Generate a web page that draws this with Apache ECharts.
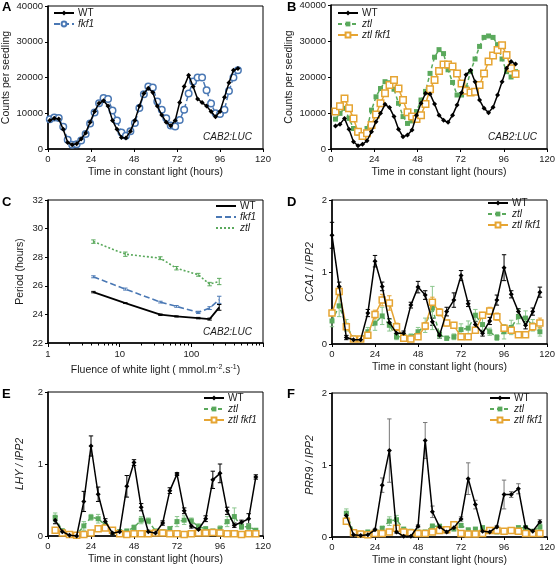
<!DOCTYPE html>
<html><head><meta charset="utf-8">
<script src="https://cdn.jsdelivr.net/npm/echarts@6/dist/echarts.min.js"></script>
<style>html,body{margin:0;padding:0;background:#fff}#c{width:558px;height:567px}</style>
</head><body><div id="c"></div>
<script>
// ---------------- DATA ----------------
// Panel A (CAB2:LUC, counts per seedling)
const tA = [1,3.5,6,8.5,11,13.5,16,18.5,21,23.5,26,28.5,31,33.5,36,38.5,41,43.5,46,48.5,51,53.5,56,58.5,61,63.5,66,68.5,71,73.5,76,78.5,81,83.5,86,88.5,91,93.5,96,98.5,101,103.5,106];
const A_WT = [8000,8600,8400,5500,1800,1200,1500,2800,4500,7500,10500,12800,13500,12000,8000,5500,3200,3100,5000,8000,12000,15500,17000,15800,12000,9500,7500,6500,8000,13000,17500,20600,17500,14000,13000,12000,10500,9000,10500,14500,18500,22000,22500];
const A_fkf1 = [8300,8800,8700,6200,2600,1200,1300,2400,4200,7100,10200,12800,14300,14000,10800,8000,4600,3700,5000,7300,11500,15300,17500,17200,13300,11000,8600,6600,6300,8100,11000,15500,18900,20000,20000,16400,12700,10000,9800,11000,16200,20000,22000];
// Panel B
const tB = [2.5,5,7.5,10,12.5,15,17.5,20,22.5,25,27.5,30,32.5,35,37.5,40,42.5,45,47.5,50,52.5,55,57.5,60,62.5,65,67.5,70,72.5,75,77.5,80,82.5,85,87.5,90,92.5,95,97.5,100,102.5];
const B_WT = [6400,6900,8500,5500,2000,900,1300,2300,4800,7600,9900,12400,11500,9000,5500,3400,3900,5300,9400,12700,15500,15300,12500,9400,8000,7400,9400,12200,15600,20600,21900,18700,13600,11300,10100,11600,15000,18700,22400,24300,23600];
const B_ztl = [8300,9900,11300,8500,5700,4400,3900,5700,10800,14500,16800,18700,18400,16600,12700,9000,7100,7800,10400,13600,16000,21000,25500,27600,26500,22000,18500,15000,15000,17000,21500,25000,28500,31000,31400,31000,29000,25000,21500,20000,21500];
const B_ztlfkf1 = [10400,11900,14000,11300,8500,4800,3600,4400,6700,9600,12700,15500,17800,19200,16800,13600,10200,9000,8300,9400,12500,16600,19200,21700,23500,23500,22900,21000,18200,16200,15700,15900,17800,21000,24300,26000,27500,28800,26100,22400,20800];
// Panel C (period vs fluence)
const fluence = [4.3,12,37,62,125,180,245];
const C_WT = [25.56,24.79,23.98,23.86,23.74,23.67,24.49];
const C_WT_err = [0.05,0.03,0.05,0.04,0.05,0.07,0.2];
const C_fkf1 = [26.63,25.77,24.86,24.56,24.14,24.44,25.02];
const C_fkf1_err = [0.07,0.07,0.06,0.06,0.08,0.1,0.25];
const C_ztl = [29.09,28.21,27.93,27.23,26.77,26.12,26.30];
const C_ztl_err = [0.12,0.15,0.1,0.12,0.1,0.12,0.22];
const C_ticks = [1,10,100,1000];
const C_labels = [1,10,100];
const C_minor = [2,3,4,5,6,7,8,9,20,30,40,50,60,70,80,90,200,300,400,500,600,700,800,900];
// Panel D (CCA1 / IPP2)
const tD = [0,4,8,12,16,20,24,28,32,36,40,44,48,52,56,60,64,68,72,76,80,84,88,92,96,100,104,108,112,116];
const D_WT = [1.51,0.80,0.09,0.06,0.06,0.43,1.15,0.80,0.30,0.15,0.15,0.54,0.79,0.68,0.31,0.12,0.45,0.61,0.95,0.56,0.27,0.15,0.32,0.61,1.06,0.69,0.45,0.26,0.45,0.72];
const D_WT_err = [0.18,0.06,0.03,0.02,0.02,0.05,0.08,0.06,0.05,0.04,0.03,0.04,0.08,0.06,0.05,0.04,0.06,0.1,0.07,0.04,0.04,0.04,0.05,0.07,0.18,0.05,0.04,0.05,0.05,0.07];
const D_ztl = [0.32,0.53,0.26,0.08,0.07,0.17,0.29,0.39,0.26,0.10,0.10,0.10,0.17,0.26,0.50,0.13,0.08,0.10,0.20,0.22,0.40,0.27,0.17,0.09,0.17,0.23,0.38,0.36,0.26,0.17];
const D_ztl_err = [0.08,0.15,0.08,0.03,0.03,0.06,0.1,0.12,0.08,0.04,0.04,0.04,0.06,0.1,0.3,0.05,0.03,0.04,0.08,0.1,0.08,0.1,0.05,0.04,0.1,0.1,0.1,0.1,0.08,0.06];
const D_zf = [0.43,0.73,0.24,0.07,0.07,0.12,0.41,0.61,0.57,0.24,0.08,0.07,0.10,0.25,0.58,0.44,0.29,0.26,0.10,0.10,0.19,0.40,0.46,0.38,0.22,0.19,0.13,0.13,0.24,0.29];
const D_zf_err = [0.04,0.05,0.04,0.02,0.02,0.03,0.06,0.08,0.1,0.05,0.02,0.02,0.03,0.05,0.07,0.05,0.04,0.04,0.03,0.03,0.04,0.04,0.05,0.05,0.04,0.04,0.04,0.04,0.05,0.07];
// Panel E (LHY / IPP2)
const tE = [4,8,12,16,20,24,28,32,36,40,44,48,52,56,60,64,68,72,76,80,84,88,92,96,100,104,108,112,116];
const E_WT = [0.22,0.06,0.01,0.00,0.48,1.25,0.58,0.20,0.04,0.06,0.69,1.02,0.40,0.06,0.04,0.18,0.63,0.86,0.35,0.14,0.09,0.24,0.78,0.87,0.35,0.15,0.19,0.24,0.82];
const E_WT_err = [0.05,0.02,0.01,0.01,0.14,0.14,0.1,0.04,0.02,0.02,0.15,0.04,0.05,0.02,0.02,0.03,0.04,0.02,0.04,0.03,0.02,0.04,0.12,0.13,0.05,0.03,0.03,0.07,0.03];
const E_ztl = [0.26,0.07,0.01,0.02,0.14,0.26,0.24,0.15,0.06,0.06,0.07,0.12,0.22,0.21,0.07,0.06,0.10,0.20,0.22,0.21,0.13,0.10,0.07,0.10,0.20,0.27,0.13,0.13,0.08];
const E_ztl_err = [0.06,0.03,0.01,0.01,0.06,0.04,0.06,0.04,0.02,0.02,0.02,0.03,0.05,0.04,0.02,0.02,0.03,0.07,0.06,0.04,0.04,0.03,0.02,0.04,0.07,0.12,0.04,0.04,0.02];
const E_zf = [0.08,0.04,0.02,0.01,0.02,0.04,0.10,0.11,0.08,0.03,0.02,0.03,0.03,0.03,0.04,0.04,0.03,0.03,0.02,0.03,0.04,0.04,0.05,0.04,0.03,0.03,0.02,0.03,0.03];
const E_zf_err = [0.03,0.02,0.01,0.01,0.01,0.02,0.03,0.03,0.02,0.01,0.01,0.01,0.01,0.01,0.01,0.01,0.01,0.01,0.01,0.01,0.01,0.01,0.02,0.01,0.01,0.01,0.01,0.01,0.01];
// Panel F (PRR9 / IPP2)
const tF = [8,12,16,20,24,28,32,36,40,44,48,52,56,60,64,68,72,76,80,84,88,92,96,100,104,108,112,116];
const F_WT = [0.30,0.03,0.02,0.03,0.10,0.72,1.20,0.07,0.01,0.01,0.15,1.34,0.35,0.14,0.07,0.13,0.25,0.81,0.45,0.08,0.07,0.14,0.59,0.59,0.67,0.14,0.08,0.21];
const F_WT_err = [0.03,0.01,0.01,0.01,0.02,0.1,0.44,0.02,0.01,0.01,0.02,0.25,0.08,0.02,0.02,0.02,0.03,0.22,0.06,0.01,0.01,0.02,0.2,0.04,0.07,0.02,0.02,0.03];
const F_ztl = [0.33,0.07,0.05,0.07,0.07,0.12,0.22,0.24,0.11,0.08,0.07,0.07,0.15,0.15,0.11,0.11,0.16,0.10,0.11,0.13,0.10,0.07,0.07,0.10,0.13,0.13,0.08,0.14];
const F_ztl_err = [0.06,0.02,0.01,0.02,0.02,0.03,0.06,0.06,0.02,0.02,0.02,0.02,0.03,0.02,0.02,0.02,0.03,0.02,0.02,0.02,0.02,0.02,0.02,0.02,0.02,0.02,0.02,0.04];
const F_zf = [0.22,0.06,0.04,0.03,0.05,0.05,0.07,0.12,0.07,0.06,0.05,0.05,0.07,0.09,0.10,0.17,0.05,0.04,0.04,0.05,0.09,0.09,0.08,0.09,0.08,0.05,0.05,0.05];
const F_zf_err = [0.04,0.01,0.01,0.01,0.01,0.01,0.01,0.02,0.01,0.01,0.01,0.01,0.01,0.01,0.01,0.02,0.01,0.01,0.01,0.01,0.01,0.01,0.01,0.01,0.01,0.01,0.01,0.01];

// ---------------- STYLE ----------------
const FONT = '"Liberation Sans", Arial, sans-serif';
const BLACK = '#000', BLUE = '#4a78b4', GREEN = '#5aa95c', ORANGE = '#e6a533';
const TXT = '#1a1a1a';

const grids = [
  {left:48, top:6, width:215, height:143},
  {left:331, top:5, width:219, height:144},
  {left:48, top:200, width:215, height:143},
  {left:332, top:200, width:218, height:144},
  {left:48, top:392, width:215, height:144},
  {left:332, top:393, width:218, height:144}
].map(g => Object.assign({show:true, borderColor:'#000', borderWidth:1, containLabel:false}, g));

function baseAxis(gi) {
  return {
    gridIndex: gi,
    axisLine: {show:true, onZero:false, lineStyle:{color:'#000', width:1.5}},
    axisTick: {show:true, inside:false, length:3, lineStyle:{color:'#000', width:1}},
    axisLabel: {color:TXT, fontSize:9.5, fontFamily:FONT, margin:5, formatter: v => String(v)},
    splitLine: {show:false},
    nameLocation: 'middle',
    nameTextStyle: {fontSize:10.5, color:TXT, fontFamily:FONT}
  };
}
const XNAME = 'Time in constant light (hours)';
function timeX(gi, gap) {
  return Object.assign(baseAxis(gi), {type:'value', min:0, max:120, interval:24, name:XNAME, nameGap:gap});
}
function yVal(gi, min, max, interval, name, gap, italic) {
  const a = Object.assign(baseAxis(gi), {type:'value', min, max, interval, name, nameGap:gap});
  if (italic) a.nameTextStyle = Object.assign({}, a.nameTextStyle, {fontStyle:'italic'});
  return a;
}

const xAxis = [
  timeX(0, 18),
  timeX(1, 18),
  Object.assign(baseAxis(2), {
    type:'log', logBase:10, min:1, max:1000, name:'Fluence of white light ( mmol.m{sup|-2}.s{sup|-1})', nameGap:21,
    axisTick:{show:true, length:4, customValues:C_ticks, lineStyle:{color:'#000', width:1}},
    axisLabel:{color:TXT, fontSize:9.5, fontFamily:FONT, margin:6, customValues:C_labels},
    nameTextStyle:{fontSize:10.5, color:TXT, fontFamily:FONT, rich:{sup:{fontSize:7, fontFamily:FONT, color:TXT, verticalAlign:'top', padding:[0,0,6,0]}}}
  }),
  timeX(3, 18),
  timeX(4, 18),
  timeX(5, 18),
  // minor ticks for the log axis of panel C
  {type:'log', logBase:10, gridIndex:2, min:1, max:1000, position:'bottom',
   axisLine:{show:false}, axisLabel:{show:false}, splitLine:{show:false},
   axisTick:{show:true, length:2.5, customValues:C_minor, lineStyle:{color:'#000', width:1}}}
];
const yAxis = [
  yVal(0, 0, 40000, 10000, 'Counts per seedling', 36, false),
  yVal(1, 0, 40000, 10000, 'Counts per seedling', 36, false),
  yVal(2, 22, 32, 2, 'Period (hours)', 22, false),
  yVal(3, 0, 2, 1, 'CCA1 / IPP2', 16, true),
  yVal(4, 0, 2, 1, 'LHY / IPP2', 22, true),
  yVal(5, 0, 2, 1, 'PRR9 / IPP2', 16, true)
];

// styles per genotype
const STY = {
  WT:     {color:BLACK, dash:'solid', symbol:'diamond', size:5, fill:BLACK, bw:0},
  fkf1:   {color:BLUE, dash:[6,3], symbol:'circle', size:6.5, fill:'#fff', bw:1.5},
  ztl:    {color:GREEN, dash:[4,3], symbol:'rect', size:5, fill:GREEN, bw:0},
  'ztl fkf1': {color:ORANGE, dash:'solid', symbol:'rect', size:6.5, fill:'#fff', bw:1.5}
};
function lineSeries(panel, geno, gi, xs, ys, opts) {
  opts = opts || {};
  const s = STY[geno];
  return {
    name: panel + '|' + geno, type:'line', xAxisIndex:gi, yAxisIndex:gi,
    data: xs.map((x, i) => [x, ys[i]]),
    symbol: opts.noSymbol ? 'none' : s.symbol,
    symbolSize: opts.size || s.size,
    showAllSymbol: true,
    lineStyle: {color:s.color, width:opts.lw || 1.5, type: opts.dash || s.dash},
    itemStyle: {color: s.fill, borderColor: s.color, borderWidth: s.bw},
    emphasis: {disabled:true}, z: opts.z || 3, animation:false, clip:true
  };
}
function errSeries(gi, xs, ys, es, color) {
  return {
    type:'custom', xAxisIndex:gi, yAxisIndex:gi, silent:true, z:2, animation:false,
    data: xs.map((x, i) => [x, ys[i], es[i]]),
    encode:{x:0, y:1},
    renderItem: function (p, api) {
      const x = api.value(0), y = api.value(1), e = api.value(2);
      const a = api.coord([x, y + e]), b = api.coord([x, y - e]);
      const w = 2.2, st = {stroke:color, lineWidth:1};
      return {type:'group', children:[
        {type:'line', shape:{x1:a[0], y1:a[1], x2:b[0], y2:b[1]}, style:st},
        {type:'line', shape:{x1:a[0]-w, y1:a[1], x2:a[0]+w, y2:a[1]}, style:st},
        {type:'line', shape:{x1:b[0]-w, y1:b[1], x2:b[0]+w, y2:b[1]}, style:st}
      ]};
    }
  };
}

const series = [
  lineSeries('A', 'WT', 0, tA, A_WT, {z:4}),
  lineSeries('A', 'fkf1', 0, tA, A_fkf1, {z:3}),
  lineSeries('B', 'WT', 1, tB, B_WT, {z:5}),
  lineSeries('B', 'ztl', 1, tB, B_ztl, {z:3}),
  lineSeries('B', 'ztl fkf1', 1, tB, B_ztlfkf1, {z:4}),
  errSeries(2, fluence, C_WT, C_WT_err, BLACK),
  errSeries(2, fluence, C_fkf1, C_fkf1_err, BLUE),
  errSeries(2, fluence, C_ztl, C_ztl_err, GREEN),
  lineSeries('C', 'WT', 2, fluence, C_WT, {noSymbol:true, lw:1.8}),
  lineSeries('C', 'fkf1', 2, fluence, C_fkf1, {noSymbol:true, lw:1.6, dash:[6,3]}),
  lineSeries('C', 'ztl', 2, fluence, C_ztl, {noSymbol:true, lw:1.6, dash:[2,2]}),
  errSeries(3, tD, D_WT, D_WT_err, BLACK),
  errSeries(3, tD, D_ztl, D_ztl_err, '#8cc78e'),
  errSeries(3, tD, D_zf, D_zf_err, ORANGE),
  lineSeries('D', 'WT', 3, tD, D_WT, {z:5}),
  lineSeries('D', 'ztl', 3, tD, D_ztl, {z:3}),
  lineSeries('D', 'ztl fkf1', 3, tD, D_zf, {z:4, size:6}),
  errSeries(4, tE, E_WT, E_WT_err, BLACK),
  errSeries(4, tE, E_ztl, E_ztl_err, '#8cc78e'),
  errSeries(4, tE, E_zf, E_zf_err, ORANGE),
  lineSeries('E', 'WT', 4, tE, E_WT, {z:5}),
  lineSeries('E', 'ztl', 4, tE, E_ztl, {z:3}),
  lineSeries('E', 'ztl fkf1', 4, tE, E_zf, {z:4, size:6}),
  errSeries(5, tF, F_WT, F_WT_err, '#777'),
  errSeries(5, tF, F_ztl, F_ztl_err, '#8cc78e'),
  errSeries(5, tF, F_zf, F_zf_err, ORANGE),
  lineSeries('F', 'WT', 5, tF, F_WT, {z:5}),
  lineSeries('F', 'ztl', 5, tF, F_ztl, {z:3}),
  lineSeries('F', 'ztl fkf1', 5, tF, F_zf, {z:4, size:6})
];

function legendFmt(name) {
  const n = name.split('|')[1];
  return n === 'WT' ? 'WT' : '{i|' + n + '}';
}
function legend(left, top, names, lineOnly) {
  return {
    orient:'vertical', left, top, padding:0, itemGap:1, itemWidth:20, itemHeight:6,
    selectedMode:false,
    data: names.map(n => lineOnly ? {name:n, itemStyle:{opacity:0}} : n),
    formatter:legendFmt,
    textStyle:{fontSize:10, color:TXT, fontFamily:FONT, padding:[0,0,0,-1],
      rich:{i:{fontSize:10, color:TXT, fontFamily:FONT, fontStyle:'italic'}}}
  };
}
const legends = [
  legend(53, 8, ['A|WT', 'A|fkf1']),
  legend(337, 8, ['B|WT', 'B|ztl', 'B|ztl fkf1']),
  legend(215, 201, ['C|WT', 'C|fkf1', 'C|ztl'], true),
  legend(487, 198, ['D|WT', 'D|ztl', 'D|ztl fkf1']),
  legend(203, 393, ['E|WT', 'E|ztl', 'E|ztl fkf1']),
  legend(489, 393, ['F|WT', 'F|ztl', 'F|ztl fkf1'])
];

function letter(t, x, y) {
  return {type:'text', x, y, silent:true, style:{text:t, font:'bold 13px ' + FONT, fill:'#000'}};
}
function tag(x, y) {
  return {type:'text', x, y, silent:true, style:{text:'CAB2:LUC', font:'italic 10px ' + FONT, fill:TXT, align:'right', verticalAlign:'middle'}};
}

const chart = echarts.init(document.getElementById('c'), null, {renderer:'canvas'});
chart.setOption({
  animation:false,
  backgroundColor:'#fff',
  grid: grids,
  xAxis, yAxis, series,
  legend: legends,
  graphic: [
    letter('A', 2, 1), letter('B', 287, 1), letter('C', 2, 196),
    letter('D', 287, 196), letter('E', 2, 388), letter('F', 287, 388),
    tag(252, 137), tag(537, 137), tag(252, 332)
  ]
});
</script>
</body></html>
